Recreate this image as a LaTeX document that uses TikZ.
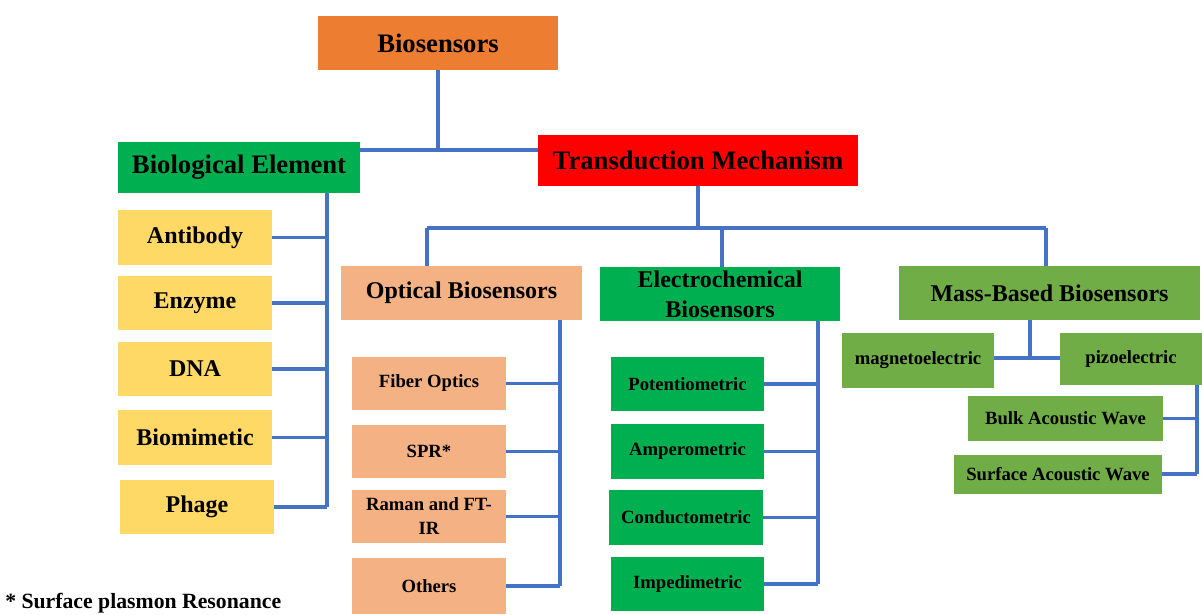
\documentclass[tikz,border=0pt]{standalone}
\usepackage{fontspec}
\setmainfont{Liberation Serif}
\definecolor{bsorange}{HTML}{ED7D31}
\definecolor{bsgreen}{HTML}{00B050}
\definecolor{bsred}{HTML}{FF0000}
\definecolor{bsyellow}{HTML}{FFD966}
\definecolor{bssalmon}{HTML}{F4B183}
\definecolor{bsolive}{HTML}{70AD47}
\definecolor{linkblue}{HTML}{4472C4}
\begin{document}
\begin{tikzpicture}[x=0.75pt, y=-0.75pt,
  box/.style 2 args={rectangle, inner sep=0pt, align=center, minimum width=#1*0.75pt, minimum height=#2*0.75pt},
  big/.style={font=\bfseries\fontsize{20}{24}\selectfont},
  mid/.style={font=\bfseries\fontsize{18}{22.5}\selectfont},
  small/.style={font=\bfseries\fontsize{14}{18}\selectfont},
  link/.style={draw=linkblue, line width=2.4pt}]
\useasboundingbox (0,0) rectangle (1202,614);

\node (bios) [box={240}{54}, fill=bsorange, big] at (438,43) {Biosensors};
\node (bioel) [box={242}{51}, fill=bsgreen, big] at (239,167.5) {Biological Element};
\node (trans) [box={320}{51}, fill=bsred, big] at (698,160.5) {Transduction Mechanism};

\node (anti) [box={154}{55}, fill=bsyellow, mid] at (195,237.5) {Antibody};
\node (enz) [box={154}{54}, fill=bsyellow, mid] at (195,303) {Enzyme};
\node (dna) [box={154}{54}, fill=bsyellow, mid] at (195,369) {DNA};
\node (biom) [box={154}{55}, fill=bsyellow, mid] at (195,437.5) {Biomimetic};
\node (phage) [box={154}{54}, fill=bsyellow, mid] at (197,507) {Phage};

\node (opt) [box={241}{54}, fill=bssalmon, mid] at (461.5,293) {Optical Biosensors};
\node (elec) [box={240}{54}, fill=bsgreen, mid] at (720,294) {Electrochemical\\Biosensors};
\node (mass) [box={301}{54}, fill=bsolive, mid] at (1049.5,293) {Mass-Based Biosensors};

\node (fiber) [box={154}{53}, fill=bssalmon, small] at (429,383.5) {Fiber Optics};
\node (spr) [box={154}{53}, fill=bssalmon, small] at (429,451.5) {SPR*};
\node (raman) [box={154}{53}, fill=bssalmon, small] at (429,516.5) {Raman and FT-\\IR};
\node (others) [box={154}{56}, fill=bssalmon, small] at (429,586) {Others};

\node (poten) [box={153}{54}, fill=bsgreen, small] at (687.5,384) {Potentiometric};
\node (amper) [box={153}{55}, fill=bsgreen, small] at (687.5,451.5) {Amperometric};
\node (cond) [box={154}{55}, fill=bsgreen, small] at (686,517.5) {Conductometric};
\node (imped) [box={153}{54}, fill=bsgreen, small] at (687.5,584) {Impedimetric};

\node (magn) [box={152}{55}, fill=bsolive, small] at (918,360.5) {magnetoelectric};
\node (pizo) [box={142}{52}, fill=bsolive, small] at (1131,359) {pizoelectric};
\node (bulk) [box={195}{45}, fill=bsolive, small] at (1065.5,418.5) {Bulk Acoustic Wave};
\node (surf) [box={208}{39}, fill=bsolive, small] at (1058,474) {Surface Acoustic Wave};

\node (note) [anchor=west, inner sep=0pt, font=\bfseries\fontsize{16.3}{19}\selectfont] at (5,603) {* Surface plasmon Resonance};

\coordinate (rootbus) at (438,150);
\coordinate (bioelbus) at (327,0);
\coordinate (transbus) at (698,228);
\coordinate (optdrop) at (427,228);
\coordinate (elecdrop) at (722,228);
\coordinate (massdrop) at (1046,228);
\coordinate (optbus) at (560,0);
\coordinate (elecbus) at (818,0);
\coordinate (massbus) at (1030,358);
\coordinate (pizobus) at (1197,0);

\draw[link] (bios.south) -- (rootbus);
\draw[link] (bioel.east |- rootbus) -- (trans.west |- rootbus);

\draw[link] (bioel.south -| bioelbus) -- (phage.east -| bioelbus);
\foreach \n in {anti,enz,dna,biom,phage}
  \draw[link] (\n.east) -- (\n.east -| bioelbus);

\draw[link] (trans.south) -- (transbus);
\draw[link] (optdrop) -- (massdrop);
\draw[link] (optdrop) -- (optdrop |- opt.north);
\draw[link] (elecdrop) -- (elecdrop |- elec.north);
\draw[link] (massdrop) -- (massdrop |- mass.north);

\draw[link] (opt.south -| optbus) -- (others.east -| optbus);
\foreach \n in {fiber,spr,raman,others}
  \draw[link] (\n.east) -- (\n.east -| optbus);

\draw[link] (elec.south -| elecbus) -- (imped.east -| elecbus);
\foreach \n in {poten,amper,cond,imped}
  \draw[link] (\n.east) -- (\n.east -| elecbus);

\draw[link] (mass.south -| massbus) -- (massbus);
\draw[link] (magn.east |- massbus) -- (pizo.west |- massbus);

\draw[link] (pizo.south -| pizobus) -- (surf.east -| pizobus);
\foreach \n in {bulk,surf}
  \draw[link] (\n.east) -- (\n.east -| pizobus);
\end{tikzpicture}
\end{document}
